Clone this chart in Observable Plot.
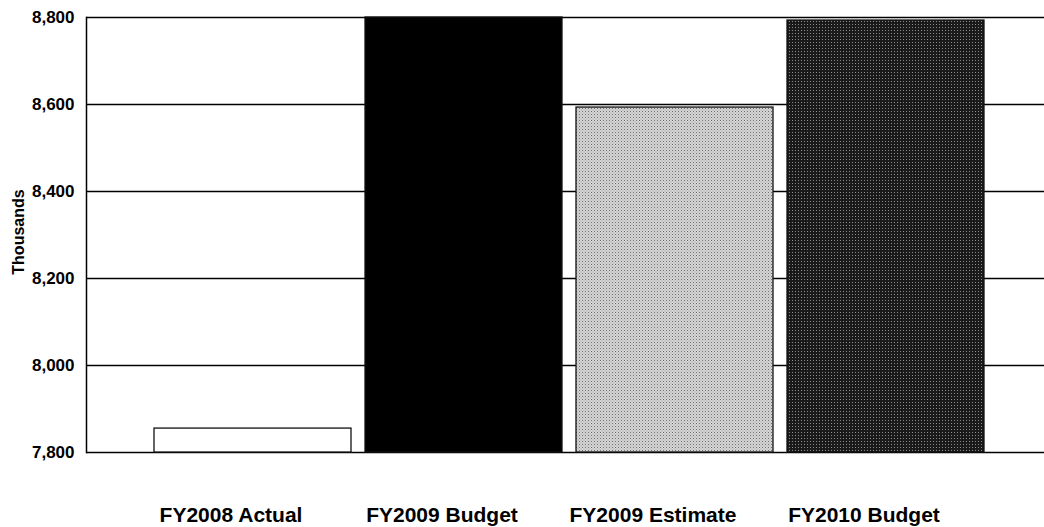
<!DOCTYPE html>
<html>
<head>
<meta charset="utf-8">
<script src="https://cdn.jsdelivr.net/npm/d3@7"></script>
<script src="https://cdn.jsdelivr.net/npm/@observablehq/plot@0.6"></script>
<style>
  html, body { margin: 0; padding: 0; background: #fff; }
</style>
</head>
<body>
<div id="chart"></div>
<script>
const categories = ["FY2008 Actual", "FY2009 Budget", "FY2009 Estimate", "FY2010 Budget"];
const values = [7855, 8800, 8593, 8793];
const yTicks = [7800, 8000, 8200, 8400, 8600, 8800];
const yDomain = [7800, 8800];
const yLabel = "Thousands";

const barFills = ["white", "black", "url(#lightDots)", "url(#darkDots)"];

const data = categories.map((c, i) => ({category: c, value: values[i]}));

const svg = Plot.plot({
  width: 1044,
  height: 527,
  marginTop: 17,
  marginBottom: 75,
  marginLeft: 86,
  marginRight: 0,
  style: {fontFamily: "'Liberation Sans', Arial, sans-serif", color: "black", background: "white"},
  x: {domain: categories, range: [147.5, 991.5], paddingInner: 0.066, paddingOuter: 0.033},
  y: {domain: yDomain},
  color: {domain: categories, range: barFills},
  marks: [
    Plot.ruleY(yTicks, {stroke: "black", strokeWidth: 1.5}),
    Plot.frame({anchor: "left", stroke: "black", strokeWidth: 1.5}),
    Plot.rectY(data, {x: "category", y1: yDomain[0], y2: "value", fill: "category", stroke: "#111", strokeWidth: 1.3}),
    Plot.axisY({ticks: yTicks, tickSize: 0, tickPadding: 12, tickFormat: d3.format(","), fontSize: 17, fontWeight: "bold", label: null}),
    Plot.axisX({tickSize: 0, tickPadding: 55, dx: -22, fontSize: 21, fontWeight: "bold", label: null}),
    Plot.text([yLabel], {frameAnchor: "left", textAnchor: "middle", lineAnchor: "middle", rotate: -90, dx: -68, dy: -3, fontSize: 16, fontWeight: "bold", fill: "black"})
  ]
});

const ns = "http://www.w3.org/2000/svg";
const defs = document.createElementNS(ns, "defs");
defs.innerHTML = `
  <pattern id="lightDots" width="3" height="3" patternUnits="userSpaceOnUse">
    <rect width="3" height="3" fill="#d6d6d6"></rect>
    <rect x="0" y="0" width="1" height="1" fill="#6e6e6e"></rect>
    <rect x="1.5" y="1.5" width="1" height="1" fill="#9a9a9a"></rect>
  </pattern>
  <pattern id="darkDots" width="3" height="3" patternUnits="userSpaceOnUse">
    <rect width="3" height="3" fill="#1a1a1a"></rect>
    <rect x="0" y="0" width="1" height="1" fill="#8a8a8a"></rect>
  </pattern>`;
svg.insertBefore(defs, svg.firstChild);

document.getElementById("chart").appendChild(svg);
</script>
</body>
</html>
